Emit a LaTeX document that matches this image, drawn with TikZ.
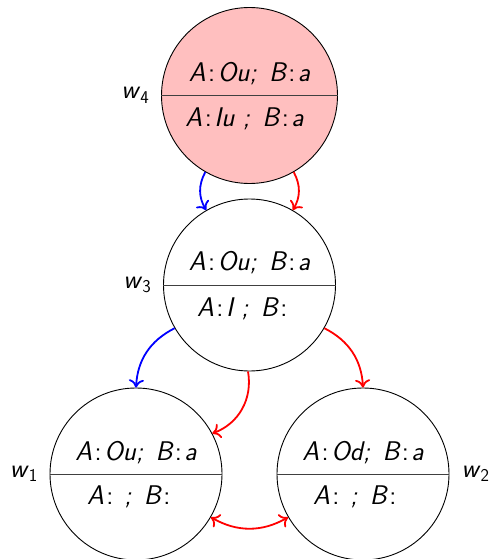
\documentclass[tikz,border=0pt]{standalone}
\usepackage{fontspec}
\usetikzlibrary{arrows.meta}
\newcommand{\wname}[1]{\textit{w}\raisebox{-4.5pt}{\fontsize{18}{20}\selectfont #1}}
% spaced upright colon and wide gap after a semicolon, used in the world contents
\newcommand{\cln}{\kern2.5pt\textup{:}\kern2.5pt}
\newcommand{\gap}{\ \kern4pt}
\tikzset{
  world/.style={circle, draw=black, line width=0.9pt, minimum size=172pt, inner sep=0pt},
  txt/.style={inner sep=0pt, anchor=base, font=\fontsize{27}{31}\selectfont\sffamily\itshape},
  wlabel/.style={inner sep=0pt, font=\fontsize{26.5}{30}\selectfont\sffamily},
  divider/.style={draw=black!75, line width=0.8pt},
  rel/.style={line width=1.8pt, -{To[length=8pt,width=15pt]}},
  relb/.style={line width=1.8pt, {To[length=8pt,width=15pt]}-{To[length=8pt,width=15pt]}}
}
\begin{document}
\begin{tikzpicture}[x=1pt,y=-1pt]
\useasboundingbox (0,0) rectangle (492,559);

% worlds
\node[world, fill=red!25, minimum size=176pt] (w4) at (249.5,95.5) {};
\node[world] (w3) at (249.5,285) {};
\node[world] (w1) at (136,474) {};
\node[world] (w2) at (363,474) {};

% dividing lines
\draw[divider] (w4.west) -- (w4.east);
\draw[divider] (w3.west) -- (w3.east);
\draw[divider] (w1.west) -- (w1.east);
\draw[divider] (w2.west) -- (w2.east);

% contents
\node[txt] (w4a) at ([yshift=14pt]w4.center) {A\cln Ou;\gap B\cln a};
\node[txt] (w4b) at ([xshift=-5pt,yshift=-31pt]w4.center) {A\cln Iu\ ;\gap B\cln a};
\node[txt] (w3a) at ([yshift=15pt]w3.center) {A\cln Ou;\gap B\cln a};
\node[txt] (w3b) at ([xshift=-6pt,yshift=-31pt]w3.center) {A\cln I\ ;\gap B\cln};
\node[txt] (w1a) at ([yshift=14pt]w1.center) {A\cln Ou;\gap B\cln a};
\node[txt] (w1b) at ([xshift=-6pt,yshift=-30pt]w1.center) {A\cln\ ;\gap B\cln};
\node[txt] (w2a) at ([yshift=14pt]w2.center) {A\cln Od;\gap B\cln a};
\node[txt] (w2b) at ([xshift=-7pt,yshift=-30pt]w2.center) {A\cln\ ;\gap B\cln};

% world names
\node[wlabel, anchor=east] (l4) at ([xshift=-12pt]w4.west) {\wname{4}};
\node[wlabel, anchor=east] (l3) at ([xshift=-12pt]w3.west) {\wname{3}};
\node[wlabel, anchor=east] (l1) at ([xshift=-12pt]w1.west) {\wname{1}};
\node[wlabel, anchor=west] (l2) at ([xshift=12pt]w2.east) {\wname{2}};

% accessibility
\draw[rel, blue] (w4.-120) to[bend right=30] (w3.120);
\draw[rel, red] (w4.-60) to[bend left=30] (w3.60);
\draw[rel, blue] (w3.-150) to[bend right=30] (w1.90);
\draw[rel, red] (w3.-30) to[bend left=30] (w2.90);
\draw[rel, red] (w3.-91) to[bend left=40] (w1.28);
\draw[relb, red] (w1.-30) to[bend right=30] (w2.-150);
\end{tikzpicture}
\end{document}
